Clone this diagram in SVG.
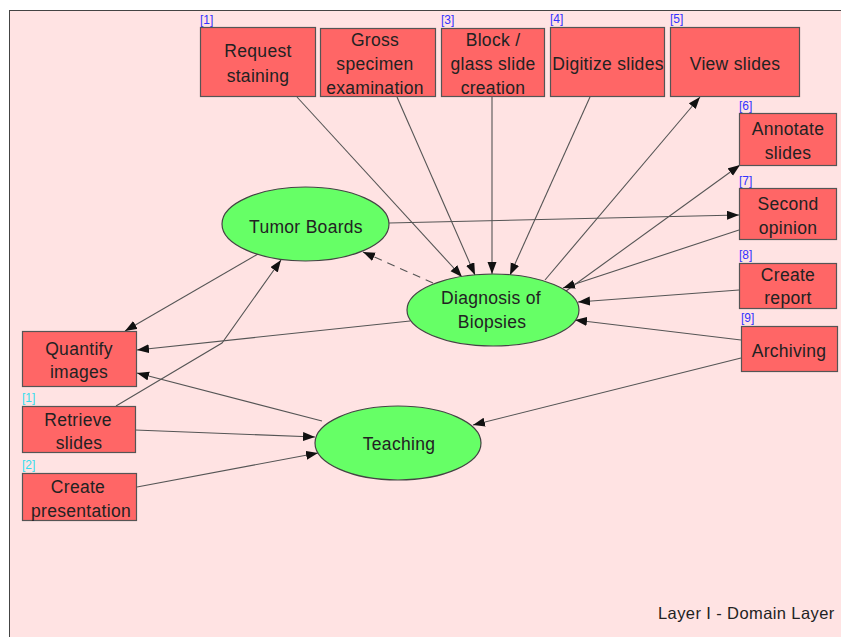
<svg xmlns="http://www.w3.org/2000/svg" width="841" height="637" viewBox="0 0 841 637">
  <defs>
    <marker id="arrow" markerUnits="userSpaceOnUse" markerWidth="13" markerHeight="10" refX="12" refY="4.5" orient="auto">
      <path d="M0,0 L12,4.5 L0,9 z" fill="#111"/>
    </marker>
    <style>
      .panel { fill: #ffe3e3; stroke: #444; stroke-width: 1; }
      .box { fill: #ff6666; stroke: #555; stroke-width: 1.2; }
      .oval { fill: #66ff66; stroke: #444; stroke-width: 1.2; }
      .lbl { font-family: "Liberation Sans", Arial, sans-serif; font-size: 17.5px; fill: #222; text-anchor: middle; letter-spacing: 0.3px; }
      .num { font-family: "Liberation Sans", Arial, sans-serif; font-size: 12px; fill: #3333ff; }
      .num2 { font-family: "Liberation Sans", Arial, sans-serif; font-size: 12px; fill: #33ddee; }
      .edge { fill: none; stroke: #555; stroke-width: 1.1; }
      .arr { marker-end: url(#arrow); }
      .dash { stroke-dasharray: 8 6; }
      .caption { font-family: "Liberation Sans", Arial, sans-serif; font-size: 16.5px; fill: #222; letter-spacing: 0.4px; }
    </style>
  </defs>

  <rect width="841" height="637" fill="#ffffff"/>
  <rect class="panel" x="9.5" y="10.5" width="850" height="650"/>

  <!-- connectors -->
  <g id="connectors">
    <line class="edge arr" x1="297" y1="97" x2="462" y2="277"/>
    <line class="edge arr" x1="397" y1="97" x2="475" y2="275"/>
    <line class="edge arr" x1="492" y1="97" x2="492" y2="274"/>
    <line class="edge arr" x1="590" y1="97" x2="510" y2="275"/>
    <line class="edge arr" x1="545" y1="280" x2="700" y2="97"/>
    <line class="edge arr" x1="566" y1="291" x2="740" y2="165"/>
    <line class="edge arr" x1="389" y1="223" x2="739" y2="215"/>
    <line class="edge arr" x1="739" y1="230" x2="563" y2="288"/>
    <line class="edge arr" x1="739" y1="290" x2="578" y2="302"/>
    <line class="edge arr" x1="741" y1="340" x2="575" y2="320"/>
    <line class="edge arr" x1="741" y1="358" x2="473" y2="425"/>
    <line class="edge arr dash" x1="433" y1="283" x2="363" y2="252"/>
    <line class="edge arr" x1="258" y1="254" x2="125" y2="331"/>
    <line class="edge arr" x1="410" y1="321" x2="137" y2="350"/>
    <line class="edge arr" x1="322" y1="421" x2="137" y2="373"/>
    <polyline class="edge arr" points="116,406 222,343 281,260"/>
    <line class="edge arr" x1="135" y1="430" x2="315" y2="437"/>
    <line class="edge arr" x1="137" y1="487" x2="318" y2="453"/>
  </g>

  <!-- activity boxes -->
  <g id="request-staining">
    <text class="num" x="200" y="24">[1]</text>
    <rect class="box" x="200.5" y="27.5" width="115" height="69"/>
    <text class="lbl" x="258" y="57">Request</text>
    <text class="lbl" x="258" y="82">staining</text>
  </g>
  <g id="gross-specimen">
    <rect class="box" x="320.5" y="28.5" width="115" height="68"/>
    <text class="lbl" x="375" y="46">Gross</text>
    <text class="lbl" x="375" y="70">specimen</text>
    <text class="lbl" x="375" y="94">examination</text>
  </g>
  <g id="block-glass-slide">
    <text class="num" x="441" y="24">[3]</text>
    <rect class="box" x="441.5" y="28.5" width="103" height="68"/>
    <text class="lbl" x="493" y="46">Block /</text>
    <text class="lbl" x="493" y="70">glass slide</text>
    <text class="lbl" x="493" y="94">creation</text>
  </g>
  <g id="digitize-slides">
    <text class="num" x="550" y="23">[4]</text>
    <rect class="box" x="550.5" y="27.5" width="114" height="69"/>
    <text class="lbl" x="608" y="70">Digitize slides</text>
  </g>
  <g id="view-slides">
    <text class="num" x="670" y="23">[5]</text>
    <rect class="box" x="670.5" y="27.5" width="129" height="69"/>
    <text class="lbl" x="735" y="70">View slides</text>
  </g>
  <g id="annotate-slides">
    <text class="num" x="739" y="110">[6]</text>
    <rect class="box" x="739.5" y="113.5" width="97" height="52"/>
    <text class="lbl" x="788" y="135">Annotate</text>
    <text class="lbl" x="788" y="159">slides</text>
  </g>
  <g id="second-opinion">
    <text class="num" x="739" y="185">[7]</text>
    <rect class="box" x="739.5" y="188.5" width="97" height="51"/>
    <text class="lbl" x="788" y="210">Second</text>
    <text class="lbl" x="788" y="234">opinion</text>
  </g>
  <g id="create-report">
    <text class="num" x="739" y="259">[8]</text>
    <rect class="box" x="739.5" y="263.5" width="97" height="45"/>
    <text class="lbl" x="788" y="281">Create</text>
    <text class="lbl" x="788" y="304">report</text>
  </g>
  <g id="archiving">
    <text class="num" x="741" y="322">[9]</text>
    <rect class="box" x="741.5" y="326.5" width="96" height="45"/>
    <text class="lbl" x="789" y="357">Archiving</text>
  </g>
  <g id="quantify-images">
    <rect class="box" x="22.5" y="331.5" width="114" height="55"/>
    <text class="lbl" x="79" y="355">Quantify</text>
    <text class="lbl" x="79" y="378">images</text>
  </g>
  <g id="retrieve-slides">
    <text class="num2" x="22" y="402">[1]</text>
    <rect class="box" x="22.5" y="406.5" width="113" height="46"/>
    <text class="lbl" x="78" y="426">Retrieve</text>
    <text class="lbl" x="79" y="449">slides</text>
  </g>
  <g id="create-presentation">
    <text class="num2" x="22" y="469">[2]</text>
    <rect class="box" x="22.5" y="473.5" width="114" height="47"/>
    <text class="lbl" x="78" y="493">Create</text>
    <text class="lbl" x="81" y="517">presentation</text>
  </g>

  <!-- use cases -->
  <g id="tumor-boards">
    <ellipse class="oval" cx="305.5" cy="224" rx="83.5" ry="37"/>
    <text class="lbl" x="306" y="233">Tumor Boards</text>
  </g>
  <g id="diagnosis-of-biopsies">
    <ellipse class="oval" cx="493" cy="310" rx="86" ry="36"/>
    <text class="lbl" x="491" y="304">Diagnosis of</text>
    <text class="lbl" x="492" y="328">Biopsies</text>
  </g>
  <g id="teaching">
    <ellipse class="oval" cx="398" cy="443" rx="83" ry="37"/>
    <text class="lbl" x="399" y="450">Teaching</text>
  </g>

  <text class="caption" x="658" y="619">Layer I - Domain Layer</text>
</svg>
